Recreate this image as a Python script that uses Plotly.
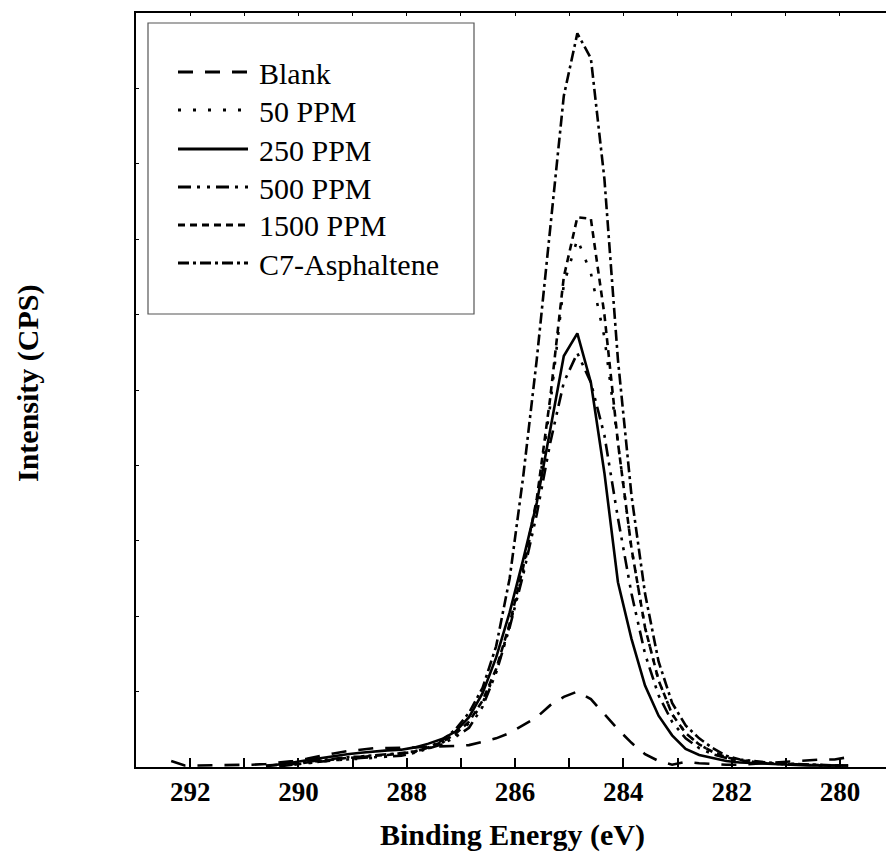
import plotly.graph_objects as go

# Binding energy grid (eV)
binding_energy = [292.35, 292.10, 291.85, 291.60, 291.35, 291.10, 290.85, 290.60, 290.35, 290.10,
                  289.85, 289.60, 289.35, 289.10, 288.85, 288.60, 288.35, 288.10, 287.85, 287.60,
                  287.35, 287.10, 286.85, 286.60, 286.35, 286.10, 285.85, 285.60, 285.35, 285.10,
                  284.85, 284.60, 284.35, 284.10, 283.85, 283.60, 283.35, 283.10, 282.85, 282.60,
                  282.35, 282.10, 281.85, 281.60, 281.35, 281.10, 280.85, 280.60, 280.35, 280.10,
                  279.85, 279.60]

N = None
blank = [0.08, 0.02, 0.02, 0.02, 0.02, 0.02, 0.03, 0.04, 0.06, 0.08,
         0.11, 0.15, 0.18, 0.21, 0.23, 0.25, 0.25, 0.25, 0.26, 0.27,
         0.27, 0.28, 0.29, 0.33, 0.38, 0.45, 0.55, 0.66, 0.82, 0.93,
         1.00, 0.90, 0.70, 0.50, 0.32, 0.17, 0.08, 0.03, 0.07, 0.05,
         0.04, 0.03, 0.03, 0.04, 0.05, 0.07, 0.08, 0.09, 0.10, 0.10,
         0.13, N]

ppm50 = [N, N, N, N, N, N, N, N, 0.01, 0.03,
         0.05, 0.07, 0.09, 0.10, 0.11, 0.12, 0.14, 0.16, 0.20, 0.25,
         0.32, 0.43, 0.58, 0.85, 1.27, 1.87, 2.60, 3.50, 4.80, 6.40,
         7.00, 6.55, 5.70, 4.30, 2.90, 1.85, 1.15, 0.70, 0.45, 0.30,
         0.20, 0.13, 0.09, 0.07, 0.05, 0.04, 0.03, 0.03, 0.02, 0.02,
         0.02, N]

ppm250 = [N, N, N, N, N, N, N, 0.01, 0.03, 0.06,
          0.09, 0.12, 0.15, 0.17, 0.19, 0.21, 0.22, 0.23, 0.26, 0.31,
          0.37, 0.47, 0.66, 0.98, 1.45, 2.05, 2.75, 3.50, 4.50, 5.45,
          5.75, 5.10, 3.90, 2.45, 1.70, 1.08, 0.68, 0.42, 0.24, 0.16,
          0.12, 0.08, 0.06, 0.05, 0.04, 0.03, 0.03, 0.02, 0.02, 0.02,
          0.02, N]

ppm500 = [N, N, N, N, N, N, N, N, 0.01, 0.03,
          0.05, 0.07, 0.09, 0.10, 0.12, 0.13, 0.14, 0.15, 0.19, 0.24,
          0.30, 0.40, 0.52, 0.80, 1.25, 1.85, 2.55, 3.35, 4.30, 5.10,
          5.49, 5.10, 4.40, 3.30, 2.30, 1.50, 0.95, 0.60, 0.38, 0.25,
          0.17, 0.12, 0.08, 0.06, 0.05, 0.04, 0.03, 0.03, 0.02, 0.02,
          0.02, N]

ppm1500 = [N, N, N, N, N, N, N, N, 0.02, 0.04,
           0.06, 0.08, 0.10, 0.12, 0.13, 0.15, 0.16, 0.18, 0.21, 0.26,
           0.33, 0.44, 0.60, 0.88, 1.30, 1.90, 2.65, 3.55, 4.90, 6.50,
           7.29, 7.27, 6.00, 4.30, 2.90, 1.85, 1.15, 0.70, 0.45, 0.30,
           0.20, 0.13, 0.09, 0.07, 0.05, 0.04, 0.03, 0.03, 0.02, 0.02,
           0.02, N]

c7_asphaltene = [N, N, N, N, N, N, N, 0.02, 0.03, 0.05,
                 0.07, 0.09, 0.11, 0.13, 0.14, 0.16, 0.17, 0.18, 0.20, 0.26,
                 0.35, 0.50, 0.72, 1.05, 1.60, 2.50, 3.85, 5.40, 7.20, 8.90,
                 9.73, 9.40, 7.80, 5.40, 3.60, 2.30, 1.40, 0.85, 0.55, 0.38,
                 0.25, 0.15, 0.10, 0.08, 0.06, 0.05, 0.04, 0.03, 0.03, 0.02,
                 0.02, N]

series_names = ["Blank", "50 PPM", "250 PPM", "500 PPM", "1500 PPM", "C7-Asphaltene"]
series_values = [blank, ppm50, ppm250, ppm500, ppm1500, c7_asphaltene]
series_dash = ["15px,12px", "3px,12px", "solid", "13px,6px,3px,7px,3px,6px", "7px,5px", "11px,4px,3px,4px"]

x_tick_values = list(range(279, 294))
x_tick_text = [str(v) if v % 2 == 0 and 280 <= v <= 292 else "" for v in x_tick_values]

FONT = "Liberation Serif"

fig = go.Figure()
for name, vals, dash in zip(series_names, series_values, series_dash):
    fig.add_trace(go.Scatter(
        x=binding_energy, y=vals, mode="lines", name=name,
        line=dict(color="black", width=2.6, dash=dash),
        connectgaps=False, showlegend=False,
    ))

W, H = 886, 855
ml, mr, mt, mb = 136, 0, 13, 88
pw, ph = W - ml - mr, H - mt - mb

def px_x(x):
    return (x - ml) / pw

def px_y(y):
    return (H - mb - y) / ph

fig.update_layout(
    width=W, height=H,
    margin=dict(l=ml, r=mr, t=mt, b=mb),
    paper_bgcolor="white", plot_bgcolor="white",
    font=dict(family=FONT, color="black"),
    xaxis=dict(
        range=[293.0, 279.15], tickmode="array", tickvals=x_tick_values, ticktext=x_tick_text,
        ticks="inside", ticklen=9, tickwidth=1.5, tickcolor="black",
        showline=True, linewidth=2, linecolor="black", showgrid=False, zeroline=False,
        tickfont=dict(family=FONT, size=27, color="black", weight="bold"),
    ),
    xaxis2=dict(
        range=[293.0, 279.15], overlaying="x", side="top", anchor="y",
        tickmode="array", tickvals=x_tick_values, showticklabels=False,
        ticks="inside", ticklen=3, tickwidth=1, tickcolor="black",
        showline=True, linewidth=2, linecolor="black", showgrid=False, zeroline=False,
    ),
    yaxis=dict(
        range=[0, 10], dtick=1, tick0=0, showticklabels=False,
        ticks="inside", ticklen=3, tickwidth=1, tickcolor="black",
        showline=True, linewidth=2, linecolor="black", showgrid=False, zeroline=False,
    ),
)

# empty trace so the top axis is rendered
fig.add_trace(go.Scatter(x=[], y=[], xaxis="x2", yaxis="y", showlegend=False, hoverinfo="skip"))

# axis titles
fig.add_annotation(text="<b>Binding Energy (eV)</b>", xref="paper", yref="paper",
                   x=px_x(512), y=px_y(835), xanchor="center", yanchor="middle", showarrow=False,
                   font=dict(family=FONT, size=30, color="black"))
fig.add_annotation(text="<b>Intensity (CPS)</b>", xref="paper", yref="paper", textangle=-90,
                   x=px_x(28), y=px_y(383), xanchor="center", yanchor="middle", showarrow=False,
                   font=dict(family=FONT, size=30, color="black"))

# legend box
shapes = [dict(type="rect", xref="paper", yref="paper",
               x0=px_x(148), x1=px_x(474), y0=px_y(314), y1=px_y(23),
               line=dict(color="#555555", width=1.2), fillcolor="white", layer="above")]
row_y = [72, 110, 149, 187, 225, 263]
for name, dash, ry in zip(series_names, series_dash, row_y):
    shapes.append(dict(type="line", xref="paper", yref="paper",
                       x0=px_x(178), x1=px_x(248), y0=px_y(ry), y1=px_y(ry),
                       line=dict(color="black", width=3, dash=dash), layer="above"))
    fig.add_annotation(text=name, xref="paper", yref="paper", x=px_x(257), y=px_y(ry + 1),
                       xanchor="left", yanchor="middle", showarrow=False,
                       font=dict(family=FONT, size=30, color="black"))
fig.update_layout(shapes=shapes)

fig.write_html("out.html")
